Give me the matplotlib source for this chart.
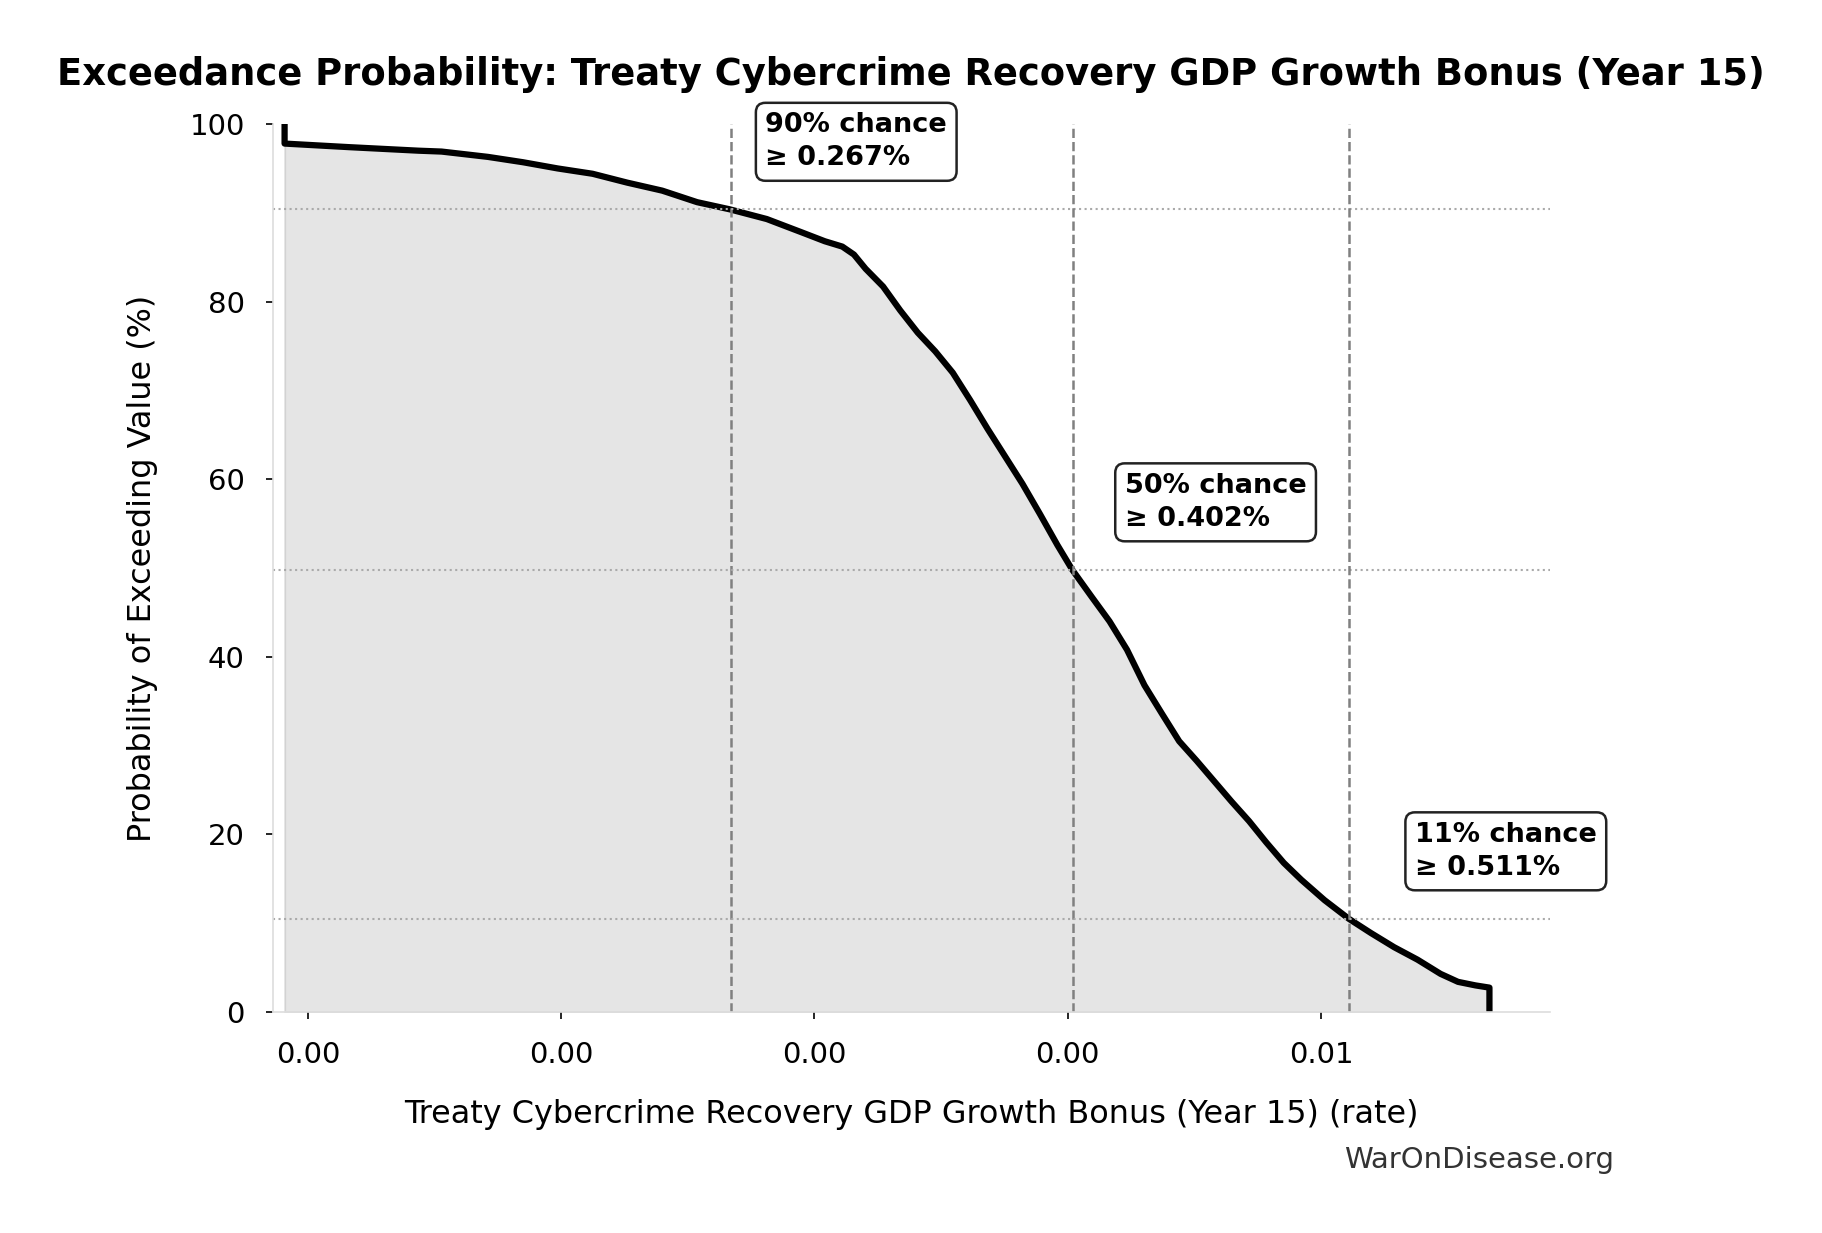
import numpy as np
import matplotlib
matplotlib.use("Agg")
import matplotlib.pyplot as plt
from matplotlib.ticker import FormatStrFormatter

# Exceedance curve (rate as a fraction, probability in %)
rate = [0.000908, 0.000908, 0.001161, 0.001436, 0.001528, 0.001711, 0.001849,
        0.001986, 0.002124, 0.002261, 0.002399, 0.002537, 0.002665, 0.002812,
        0.002950, 0.003041, 0.003110, 0.003156, 0.003202, 0.003271, 0.003339,
        0.003408, 0.003477, 0.003546, 0.003615, 0.003683, 0.003752, 0.003821,
        0.003890, 0.003959, 0.004018, 0.004096, 0.004165, 0.004234, 0.004303,
        0.004372, 0.004440, 0.004509, 0.004578, 0.004647, 0.004716, 0.004784,
        0.004853, 0.004922, 0.005014, 0.005110, 0.005197, 0.005289, 0.005381,
        0.005472, 0.005541, 0.005610, 0.005665, 0.005665]
exceed = [100.0, 97.8, 97.4, 97.0, 96.9, 96.3, 95.7,
          95.0, 94.4, 93.4, 92.5, 91.2, 90.4, 89.3,
          87.8, 86.8, 86.2, 85.3, 83.7, 81.7, 79.0,
          76.5, 74.4, 72.0, 68.9, 65.7, 62.6, 59.5,
          56.1, 52.6, 49.8, 46.7, 44.0, 40.8, 36.8,
          33.6, 30.5, 28.3, 26.0, 23.7, 21.5, 19.1,
          16.8, 14.9, 12.6, 10.5, 8.9, 7.3, 5.9,
          4.3, 3.4, 3.0, 2.75, 0.0]

# marked thresholds
mark_rate = [0.00267, 0.00402, 0.00511]
mark_prob = [90.4, 49.8, 10.5]
mark_text = ["90% chance\n\u2265 0.267%", "50% chance\n\u2265 0.402%", "11% chance\n\u2265 0.511%"]

xticks = [0.001, 0.002, 0.003, 0.004, 0.005]
yticks = [0, 20, 40, 60, 80, 100]

title = "Exceedance Probability: Treaty Cybercrime Recovery GDP Growth Bonus (Year 15)"
xlabel = "Treaty Cybercrime Recovery GDP Growth Bonus (Year 15) (rate)"
ylabel = "Probability of Exceeding Value (%)"

fig = plt.figure(figsize=(1822 / 150, 1233 / 150), dpi=150)
ax = fig.add_axes([0.1498, 0.1792, 0.7009, 0.7202])

ax.fill_between(rate, exceed, color="gray", alpha=0.2)
ax.plot(rate, exceed, color="black", lw=3)

for xv, pv, txt in zip(mark_rate, mark_prob, mark_text):
    ax.axvline(xv, color="gray", ls="--", lw=1.2)
    ax.axhline(pv, color="#aaaaaa", ls=":", lw=1.0)
    ax.text(xv * 1.051, pv + 7.6, txt, fontsize=13, fontweight="bold", va="center", ha="left",
            linespacing=1.35,
            bbox=dict(boxstyle="round,pad=0.35", facecolor="white", edgecolor="#222222", lw=1.2))

ax.set_xlim(0.000862, 0.005904)
ax.set_ylim(0, 100)
ax.set_xticks(xticks)
ax.set_yticks(yticks)
ax.xaxis.set_major_formatter(FormatStrFormatter("%.2f"))
ax.tick_params(labelsize=14)
ax.tick_params(axis="y", pad=10)
ax.tick_params(axis="x", pad=10.5)

for s in ["top", "right"]:
    ax.spines[s].set_visible(False)
for s in ["left", "bottom"]:
    ax.spines[s].set_color("#dddddd")

ax.set_xlabel(xlabel, fontsize=15.3)
ax.set_ylabel(ylabel, fontsize=15.3)
ax.xaxis.set_label_coords(0.5, -0.098)
ax.yaxis.set_label_coords(-0.09, 0.5)
fig.text(0.5, 0.9397, title, fontsize=17.7, fontweight="bold", ha="center", va="center")
fig.text(0.886, 0.059, "WarOnDisease.org", fontsize=14, color="#333333", ha="right", va="center")

fig.savefig("out.png", dpi=150)
